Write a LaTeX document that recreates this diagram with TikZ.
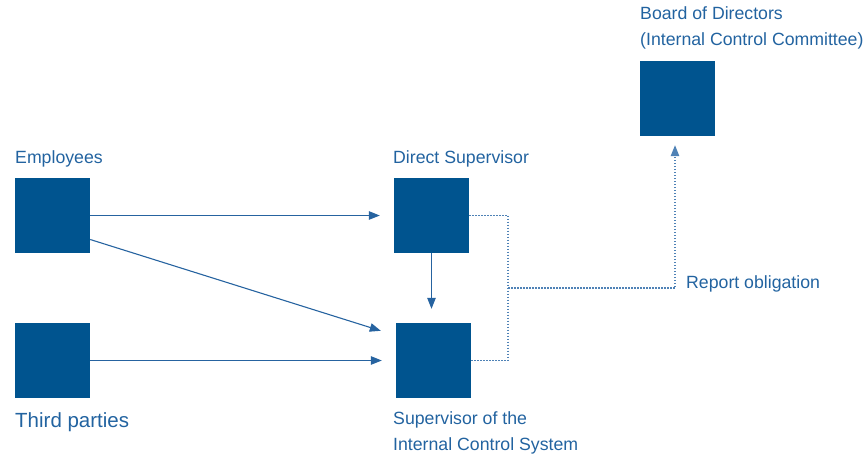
\documentclass[tikz,border=0pt]{standalone}
\usepackage{fontspec}
\setmainfont{Liberation Sans}
\usetikzlibrary{arrows.meta,calc}

\definecolor{boxblue}{HTML}{00548F}
\definecolor{txtblue}{HTML}{2263A0}
\definecolor{lineblue}{HTML}{2663A0}
\definecolor{dotblue}{HTML}{4F82B6}

\tikzset{
    blk/.style={fill=boxblue, minimum size=75pt, inner sep=0pt},
    lbl/.style={text=txtblue, inner sep=0pt, anchor=base west,
                font=\fontsize{17.7}{25.5}\selectfont},
    lblbig/.style={lbl, font=\fontsize{20.5}{24}\selectfont},
    arr/.style={draw=lineblue, line width=1.1pt,
                -{Triangle[length=11pt,width=8.5pt]}},
    dots/.style={draw=dotblue, line width=1.2pt, dash pattern=on 1.5pt off 1.5pt}
}

\begin{document}
\begin{tikzpicture}[x=1pt, y=-1pt]
                \useasboundingbox (0,0) rectangle (867,456);

                % boxes
                \node[blk] (emp) at (52.5, 215.5) {};
                \node[blk] (third) at (52.5, 360.5) {};
                \node[blk] (ds) at (431.5, 215.5) {};
                \node[blk] (sics) at (433.5, 360.5) {};
                \node[blk] (board) at (677.5, 98.5) {};

                % labels
                \node[lbl] (emplbl) at (15, 163) {Employees};
                \node[lblbig] (thirdlbl) at (15, 427) {Third parties};
                \node[lbl] (dslbl) at (393, 163) {Direct Supervisor};
                \node[lbl, align=left, anchor=north west] (sicslbl) at (393, 411.5)
                    {Supervisor of the\\Internal Control System};
                \node[lbl, align=left, anchor=north west] (boardlbl) at (640, 6.5)
                    {Board of Directors\\(Internal Control Committee)};
                \node[lbl] (replbl) at (686, 288) {Report obligation};

                % arrows
                \draw[arr, shorten >=14pt] (emp) -- (ds);
                \draw[arr] ($(emp.east)+(0,24)$) -- ($(sics.north west)+(-15,8)$);
                \draw[arr, shorten >=14pt] (third) -- (sics);
                \draw[arr, shorten >=14pt] (ds.south) -- (ds.south |- sics.north);

                % report line
                \coordinate (jn) at (508, 288);
                \draw[dots] (ds.east) -| (jn) |- (sics.east);
                \draw[dots, -{Triangle[length=11pt,width=8.5pt]}, shorten >=9pt]
                    (jn) -| ([xshift=-2.5pt]board.south);
\end{tikzpicture}
\end{document}
